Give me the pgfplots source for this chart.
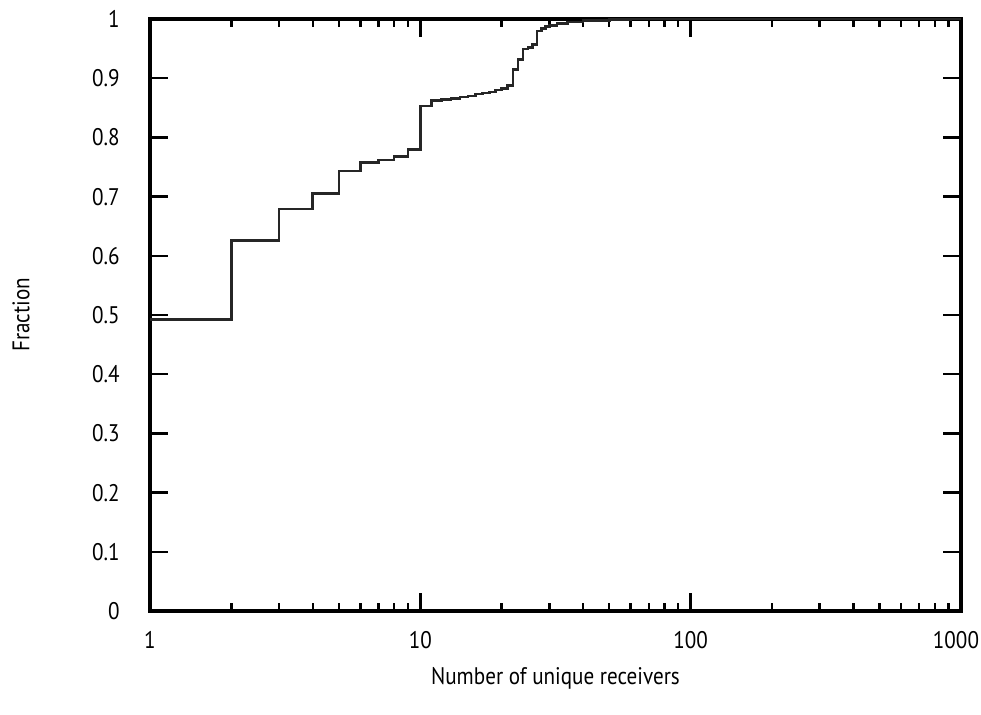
\documentclass[border=0pt]{standalone}
\usepackage{pgfplots}
\pgfplotsset{compat=1.18}
\usepackage{fontspec}
\setmainfont{PT Sans}[FakeStretch=0.88]
\begin{document}
\fontsize{12}{14.4}\selectfont
\begin{tikzpicture}
\useasboundingbox (-75pt,-51.5pt) rectangle (415.5pt,305.5pt);
\begin{axis}[
  at={(0,0)}, anchor=south west,
  scale only axis,
  width=405.5pt, height=296pt,
  xmode=log, log basis x=10,
  xmin=1, xmax=1000, ymin=0, ymax=1,
  xtick={1,10,100,1000},
  xticklabels={1,10,100,{\hspace*{-5pt}1000}},
  ytick={0,0.1,0.2,0.3,0.4,0.5,0.6,0.7,0.8,0.9,1},
  yticklabels={0,0.1,0.2,0.3,0.4,0.5,0.6,0.7,0.8,0.9,1},
  minor xtick={2,3,4,5,6,7,8,9,20,30,40,50,60,70,80,90,200,300,400,500,600,700,800,900},
  minor ytick={},
  tick align=inside,
  major tick length=9pt,
  minor tick length=4pt,
  every tick/.style={black, line width=1.2pt},
  axis line style={line width=1.6pt},
  xticklabel style={yshift=-6pt},
  yticklabel style={xshift=-11pt},
  xlabel={Number of unique receivers},
  ylabel={Fraction},
  xlabel style={at={(axis description cs:0.5,-0.113)}, anchor=center},
  ylabel style={at={(axis description cs:-0.159,0.5)}, anchor=center},
  clip=false,
]
\addplot[const plot, line width=1.3pt, color=black!85] coordinates {
(1,0.492) (2,0.626) (3,0.679) (4,0.705) (5,0.743) (6,0.758) (7,0.762) (8,0.768) (9,0.780)
(10,0.853) (11,0.862) (12,0.864) (13,0.866) (14,0.868) (15,0.870) (16,0.873) (17,0.875)
(18,0.877) (19,0.880) (20,0.883) (21,0.888) (22,0.915) (23,0.932) (24,0.949) (25,0.952)
(26,0.957) (27,0.980) (28,0.984) (29,0.987) (30,0.989) (32,0.992) (35,0.995) (40,0.997)
(50,0.999) (60,1.0) (1000,1.0)
};
\end{axis}
\end{tikzpicture}
\end{document}
